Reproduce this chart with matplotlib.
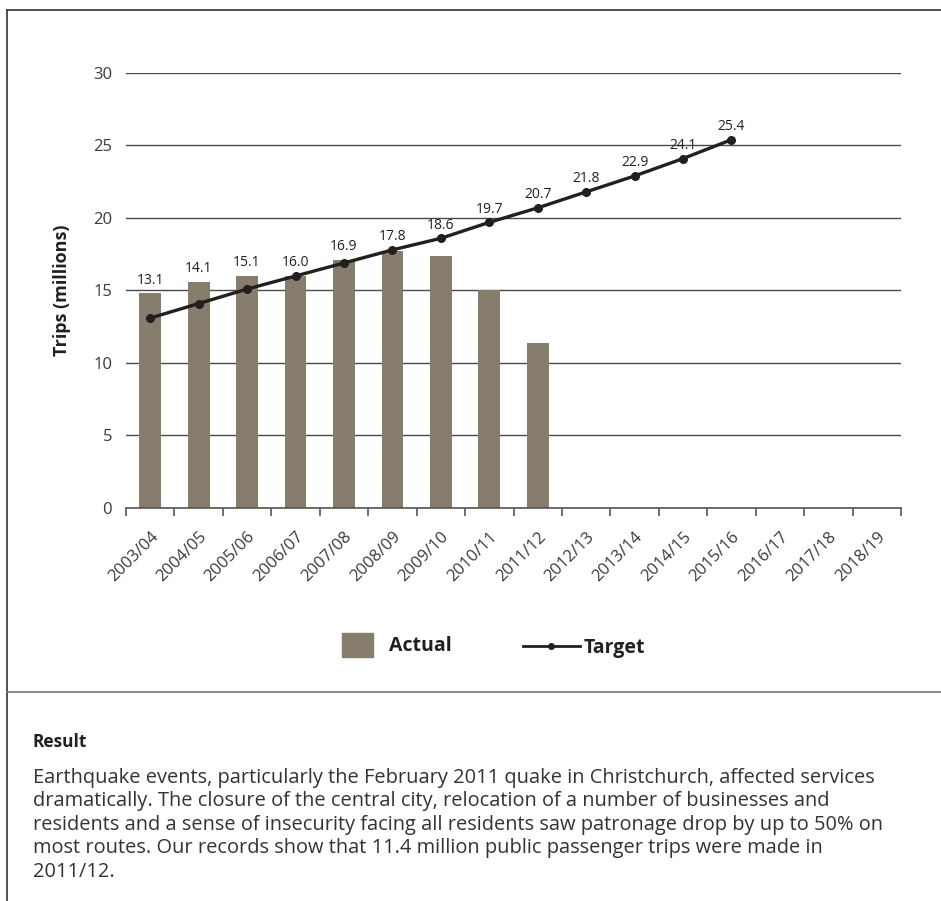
import matplotlib.pyplot as plt
from matplotlib.lines import Line2D
from matplotlib.patches import Patch

plt.rcParams['font.family'] = ['Open Sans', 'DejaVu Sans']

years = ['2003/04', '2004/05', '2005/06', '2006/07', '2007/08', '2008/09',
         '2009/10', '2010/11', '2011/12', '2012/13', '2013/14', '2014/15',
         '2015/16', '2016/17', '2017/18', '2018/19']
actual = [14.8, 15.6, 16.0, 16.0, 17.1, 17.7, 17.4, 15.0, 11.4]
target = [13.1, 14.1, 15.1, 16.0, 16.9, 17.8, 18.6, 19.7, 20.7, 21.8, 22.9, 24.1, 25.4]

bar_col = '#867d6c'
txt_col = '#231f20'

fig = plt.figure(figsize=(9.41, 9.01), dpi=100)
W, H = 941, 901
ax = fig.add_axes([126 / W, 1 - 508 / H, (901 - 126) / W, (508 - 73) / H])

x = list(range(len(years)))
ax.bar(x[:len(actual)], actual, width=0.45, color=bar_col, zorder=2)
ax.plot(x[:len(target)], target, color=txt_col, lw=2.4, marker='o', ms=5.5, zorder=3)
for i, v in enumerate(target):
    top = max(v, actual[i]) if i < len(actual) else v
    ax.annotate('%.1f' % v, (i, top), xytext=(0, 4), textcoords='offset points',
                ha='center', va='bottom', fontsize=10, color=txt_col)

ax.set_xlim(-0.5, len(years) - 0.5)
ax.set_ylim(0, 30)
ax.set_yticks(range(0, 31, 5))
ax.grid(axis='y', color='#4a4a4a', lw=1.0, zorder=0)
ax.set_axisbelow(True)
for s in ['top', 'right', 'left']:
    ax.spines[s].set_visible(False)
ax.spines['bottom'].set_color('#555555')
ax.spines['bottom'].set_linewidth(1.2)
ax.tick_params(axis='y', length=0, pad=10, labelsize=12, labelcolor='#3a3a3a')
ax.set_xticks([i - 0.5 for i in range(len(years) + 1)], minor=False)
ax.set_xticklabels([])
ax.set_xticks(x, minor=True)
ax.set_xticklabels(years, minor=True, rotation=45, ha='right', va='top',
                   rotation_mode='anchor', fontsize=12, color='#3a3a3a')
ax.tick_params(axis='x', which='major', length=6, width=1.2, color='#555555', direction='out')
ax.tick_params(axis='x', which='minor', length=0, pad=15)
ax.set_ylabel('Trips (millions)', fontsize=13, fontweight='bold', color=txt_col, labelpad=16)

# legend
fig.legend(handles=[Patch(color=bar_col, label='Actual')],
           loc='center', bbox_to_anchor=(397 / W, 1 - 645 / H), frameon=False,
           handlelength=1.6, handleheight=1.5, handletextpad=0.8,
           prop={'size': 14, 'weight': 'bold'}, labelcolor=txt_col)
fig.legend(handles=[Line2D([], [], color=txt_col, lw=2, marker='o', ms=4, label='Target')],
           loc='center', bbox_to_anchor=(584 / W, 1 - 648 / H), frameon=False,
           handlelength=2.9, handletextpad=0.2,
           prop={'size': 14, 'weight': 'bold'}, labelcolor=txt_col)

# frame lines
fig.add_artist(Line2D([7 / W, 1], [1 - 10 / H, 1 - 10 / H], color='#333333', lw=1.2))
fig.add_artist(Line2D([7 / W, 7 / W], [0, 1 - 10 / H], color='#333333', lw=1.2))
fig.add_artist(Line2D([7 / W, 1], [1 - 692 / H, 1 - 692 / H], color='#777777', lw=1.2))

fig.text(33 / W, 1 - 733 / H, 'Result', fontsize=12.5, fontweight='bold', color=txt_col, va='top')
para = ('Earthquake events, particularly the February 2011 quake in Christchurch, affected services\n'
        'dramatically. The closure of the central city, relocation of a number of businesses and\n'
        'residents and a sense of insecurity facing all residents saw patronage drop by up to 50% on\n'
        'most routes. Our records show that 11.4 million public passenger trips were made in\n'
        '2011/12.')
fig.text(33 / W, 1 - 768 / H, para, fontsize=14.4, color='#333333', va='top', linespacing=1.23)

fig.savefig('out.png', dpi=100)
